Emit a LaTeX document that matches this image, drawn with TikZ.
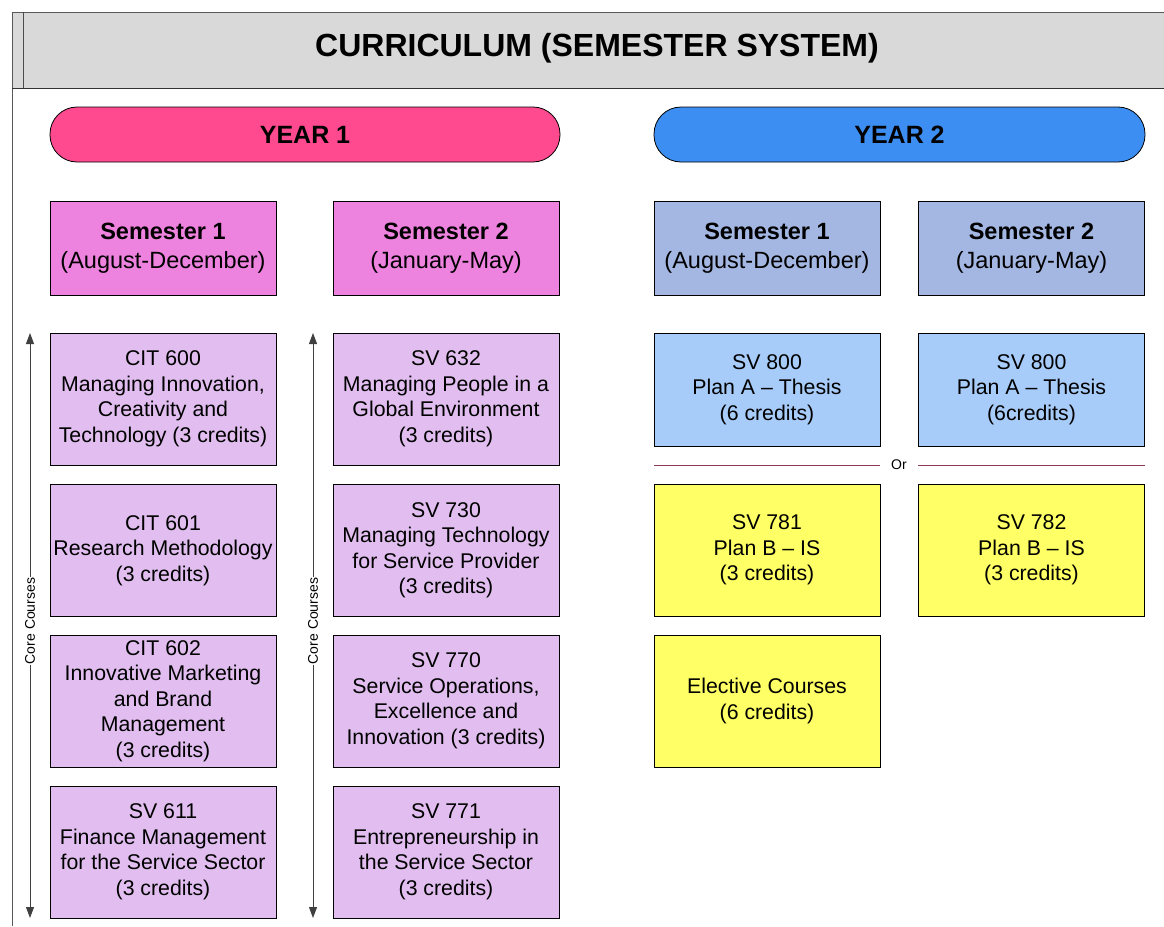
\documentclass[tikz,border=0pt]{standalone}
\usepackage{fontspec}
\setmainfont{Liberation Sans}
\usetikzlibrary{arrows.meta}
\definecolor{hdrgray}{HTML}{D9D9D9}
\definecolor{yearpink}{HTML}{FF4A8F}
\definecolor{yearblue}{HTML}{3D8EF2}
\definecolor{sempink}{HTML}{EE82DF}
\definecolor{semblue}{HTML}{A3B7E2}
\definecolor{coursepink}{HTML}{E1BEEF}
\definecolor{courseblue}{HTML}{A8CCFA}
\definecolor{courseyellow}{HTML}{FFFF66}
\definecolor{orline}{HTML}{8B3A5A}
\tikzset{
  box/.style={draw=black, line width=0.8pt, align=center, inner sep=0pt,
    minimum width=226pt, font=\fontsize{21.3}{25.5}\selectfont},
  coursebox/.style={box, minimum height=132pt},
  sembox/.style={box, minimum height=94pt, font=\fontsize{23.5}{29}\selectfont},
  yearpill/.style={draw=black, line width=0.8pt, rounded corners=27pt, inner sep=0pt,
    minimum height=55pt, font=\fontsize{25}{30}\selectfont\bfseries},
  corearrow/.style={draw=black!75, line width=0.9pt,
    {Triangle[length=11pt,width=8pt]}-{Triangle[length=11pt,width=8pt]}},
  corelabel/.style={rotate=90, fill=white, inner sep=1pt, font=\fontsize{14}{16}\selectfont}
}
\begin{document}
\begin{tikzpicture}[x=1pt,y=-1pt]
\useasboundingbox (0,0) rectangle (1164,926);
% header
\fill[hdrgray] (12,12) rectangle (1170,88);
\draw[black!65, line width=1pt] (1170,12) -- (12,12) -- (12,926);
\draw[black!80, line width=1pt] (12,88) -- (1170,88);
\draw[black!70, line width=1pt] (23,12) -- (23,88);
\node (title) at (597,48) {\fontsize{32}{36}\selectfont\bfseries CURRICULUM (SEMESTER SYSTEM)};
% years
\node[yearpill, fill=yearpink, minimum width=510pt] (y1) at (305,134.5) {YEAR 1};
\node[yearpill, fill=yearblue, minimum width=491pt] (y2) at (899.5,134.5) {YEAR 2};
% semesters
\node[sembox, fill=sempink] (s11) at (163,248) {\raisebox{0pt}{\textbf{Semester 1}}\\(August-December)};
\node[sembox, fill=sempink] (s12) at (446,248) {\textbf{Semester 2}\\(January-May)};
\node[sembox, fill=semblue] (s21) at (767,248) {\textbf{Semester 1}\\(August-December)};
\node[sembox, fill=semblue] (s22) at (1031.5,248) {\textbf{Semester 2}\\(January-May)};
% year 1 semester 1
\node[coursebox, fill=coursepink] (c600) at (163,399) {CIT 600\\Managing Innovation,\\Creativity and\\Technology (3 credits)};
\node[coursebox, fill=coursepink] (c601) at (163,550.5) {CIT 601\\Research Methodology\\(3 credits)};
\node[coursebox, fill=coursepink] (c602) at (163,701) {CIT 602\\Innovative Marketing\\and Brand\\Management\\(3 credits)};
\node[coursebox, fill=coursepink] (c611) at (163,852) {SV 611\\Finance Management\\for the Service Sector\\(3 credits)};
% year 1 semester 2
\node[coursebox, fill=coursepink] (c632) at (446,399) {SV 632\\Managing People in a\\Global Environment\\(3 credits)};
\node[coursebox, fill=coursepink] (c730) at (446,550.5) {SV 730\\Managing Technology\\for Service Provider\\(3 credits)};
\node[coursebox, fill=coursepink] (c770) at (446,701) {SV 770\\Service Operations,\\Excellence and\\Innovation (3 credits)};
\node[coursebox, fill=coursepink] (c771) at (446,852) {SV 771\\Entrepreneurship in\\the Service Sector\\(3 credits)};
% year 2
\node[box, fill=courseblue, minimum height=113pt] (c800a) at (767,389.5) {SV 800\\Plan A -- Thesis\\(6 credits)};
\node[box, fill=courseblue, minimum height=113pt] (c800b) at (1031.5,389.5) {SV 800\\Plan A -- Thesis\\(6credits)};
\node[coursebox, fill=courseyellow] (c781) at (767,550) {SV 781\\Plan B -- IS\\(3 credits)};
\node[coursebox, fill=courseyellow] (c782) at (1031.5,550) {SV 782\\Plan B -- IS\\(3 credits)};
\node[coursebox, fill=courseyellow] (elec) at (767,701) {Elective Courses\\(6 credits)};
% or line
\node[font=\fontsize{14}{16}\selectfont, inner sep=0pt] (or) at (899,465) {Or};
\coordinate (orL) at (654,465);
\coordinate (orR) at (1145,465);
\draw[orline, line width=1pt] (orL) -- (880,465);
\draw[orline, line width=1pt] (918,465) -- (orR);
% core course arrows
\coordinate (a1t) at (30,333);
\coordinate (a1b) at (30,918);
\coordinate (a2t) at (313,333);
\coordinate (a2b) at (313,918);
\draw[corearrow] (a1t) -- (a1b);
\draw[corearrow] (a2t) -- (a2b);
\node[corelabel] (cl1) at (30,621) {Core Courses};
\node[corelabel] (cl2) at (313,621) {Core Courses};
\end{tikzpicture}
\end{document}
